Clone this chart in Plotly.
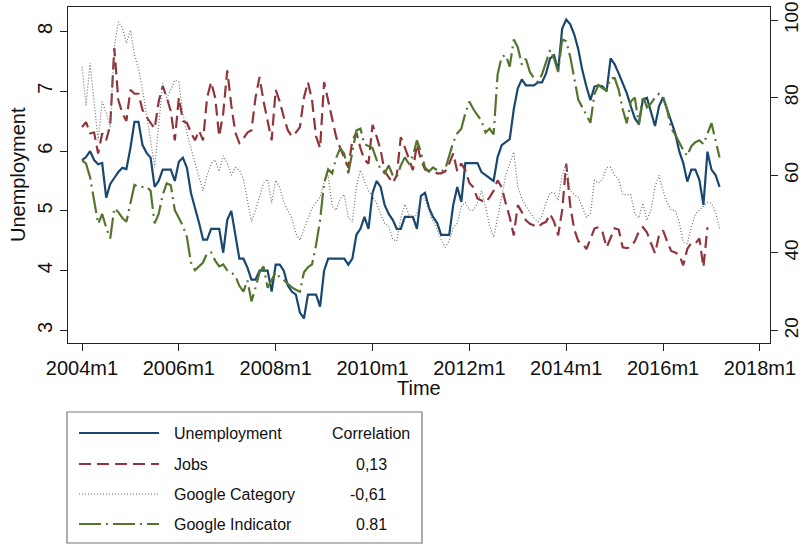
import plotly.graph_objects as go

# Monthly series, 2004m1 .. 2017m3
start_year = 2004
unemployment = [
    5.85, 5.9, 6.0, 5.85, 5.78, 5.8, 5.22, 5.45, 5.55, 5.65, 5.72, 5.7,
    6.05, 6.49, 6.49, 6.1, 5.97, 5.89, 5.4, 5.5, 5.69, 5.69, 5.69, 5.5,
    5.82, 5.89, 5.72, 5.3, 5.07, 4.8, 4.52, 4.52, 4.7, 4.7, 4.7, 4.3,
    4.85, 5.0, 4.6, 4.2, 4.2, 4.05, 3.85, 3.85, 4.0, 4.0, 4.0, 3.65,
    4.1, 4.1, 4.0, 3.75, 3.65, 3.6, 3.3, 3.2, 3.6, 3.6, 3.6, 3.4,
    4.0, 4.2, 4.2, 4.2, 4.2, 4.2, 4.1, 4.2, 4.6, 4.7, 4.9, 4.7,
    5.3, 5.5, 5.4, 5.1, 4.95, 4.85, 4.7, 4.7, 4.9, 4.9, 4.9, 4.7,
    5.25, 5.3, 5.05, 4.9, 4.8, 4.6, 4.6, 4.6, 5.1, 5.4, 5.15, 5.8,
    5.8, 5.8, 5.8, 5.65, 5.6, 5.55, 5.5, 5.9, 6.1, 6.15, 6.2, 6.7,
    7.05, 7.2, 7.1, 7.1, 7.1, 7.15, 7.15, 7.3, 7.55, 7.6, 7.35, 8.05,
    8.2, 8.12, 7.95, 7.7, 7.35, 7.08, 6.85, 7.08, 7.1, 7.08, 7.0, 7.55,
    7.45, 7.3, 7.15, 6.97, 6.75, 6.55, 6.45, 6.86, 6.89, 6.65, 6.42, 6.75,
    6.9, 6.7, 6.5, 6.3, 6.0, 5.8, 5.49, 5.69, 5.69, 5.52, 5.1, 5.99,
    5.69, 5.6, 5.4,
]
jobs = [
    72.4, 73.7, 70.8, 71, 65.6, 70.8, 69, 73, 92.8, 79.4, 76, 74,
    82, 81, 81, 76.8, 75, 73.5, 72, 79, 83, 80, 76.5, 69,
    80, 74, 73.5, 71, 69, 71.5, 69, 80, 84, 80, 70, 76,
    87, 78, 71, 68.3, 69.5, 71, 71.6, 80, 85.3, 79, 74, 69,
    82, 79, 75, 71.6, 70, 71, 72.4, 80, 84, 79.4, 70, 67,
    84, 79, 74, 69.8, 67, 64.6, 62, 69, 71, 67, 64, 63,
    73, 70, 66.5, 61, 59.5, 58, 60, 69.8, 67.2, 64, 61.3, 68,
    64, 61.5, 61, 61, 60.5, 60.5, 61, 63, 65.6, 61, 63, 61.3,
    58, 56.9, 54, 53.5, 53, 54.3, 56, 58.7, 56.9, 52.8, 49.2, 44.5,
    52.3, 50.5, 48.4, 47.5, 47, 46.6, 47.5, 48, 50, 48, 44.5, 51,
    63, 52, 46, 43, 42.4, 41, 43.5, 46.3, 46.6, 45.3, 41.4, 44,
    46.3, 46, 41.4, 41.2, 41.5, 43, 45.5, 46.6, 45.3, 42.5, 39.9, 44.5,
    45.8, 43, 40.5, 40.1, 39.5, 36.8, 41, 42.5, 42.4, 43.7, 36.3, 46.6,
    None, None, None,
]
google_category = [
    88, 78, 88.9, 79.4, 69, 79, 76, 72.4, 93, 99.5, 98, 94,
    97.4, 91, 87.5, 82, 76, 69, 62, 72, 83.7, 80, 82, 84.5,
    84, 76, 71, 67, 63, 59.5, 56, 60, 63, 64, 61, 65,
    63, 60, 62, 61.3, 59, 53, 48, 51, 54.3, 58, 59, 52.8,
    58.7, 56.9, 53, 51, 49, 45, 43.2, 46, 49, 51.5, 53, 54.3,
    58, 60, 52, 51, 54, 55, 49.2, 48, 57, 61.3, 58.5, 56,
    54.5, 52.8, 50, 47.6, 46.8, 43.5, 43, 49, 52.5, 50, 48.5, 50,
    54, 54, 50.5, 48.4, 46, 43.5, 41.4, 43, 46.6, 47.6, 52, 53,
    51, 51, 52.8, 56, 52, 47, 44, 49, 55, 60, 63, 66,
    57, 54, 52, 50.5, 49, 48, 49.5, 53, 55.5, 55.5, 53.5, 60,
    63, 56, 55, 54.3, 51.5, 49.2, 50, 58.7, 58, 59, 62, 62,
    60, 59, 55, 55, 55, 50, 49, 52.8, 48.4, 51, 57, 60,
    56, 53, 51, 51, 48, 42.7, 42.4, 46.6, 50, 51, 52, 53,
    52.8, 50.5, 46.3,
]
google_indicator = [
    63.9, 63, 59.5, 53, 47.5, 50, 46.5, 43.7, 51.5, 50.5, 49, 48,
    53, 57.5, 57, 57, 57, 56, 47.6, 50, 55, 57.9, 57.4, 51,
    49, 47, 44, 37.5, 35.5, 36.5, 37.5, 39.9, 40.1, 38, 36.5, 37,
    35.5, 35, 34, 31.5, 30, 32.9, 27.5, 31, 35, 36.5, 31, 33,
    35, 33.7, 33, 32, 31.1, 30.5, 30, 35, 36.3, 37, 42, 48.4,
    58, 61.5, 60.5, 64.5, 67, 65.5, 60.5, 66, 71.5, 72, 68, 67.5,
    67, 64, 61.5, 60.5, 62.5, 60, 59.5, 62.5, 64.6, 63, 65, 69,
    66, 62, 61, 62, 61.3, 61, 61.5, 65, 68.5, 70.8, 72, 76,
    79, 77, 75.5, 74, 71, 72, 70.5, 86, 90.5, 91, 88, 95,
    93, 88.5, 90, 86.6, 85, 84, 86, 89, 92.3, 90, 86.6, 95,
    94.5, 90.5, 85, 79.4, 77.5, 75.5, 73.5, 81, 83.2, 82.4, 81.9, 85,
    85, 82, 77, 73.4, 79, 80, 73, 80.5, 77.5, 78.5, 80, 81,
    80, 77, 72, 70.5, 68.5, 66.5, 65, 67.5, 68.5, 69, 68, 70.8,
    73.4, 69, 64.6,
]

series_names = ["Unemployment", "Jobs", "Google Category", "Google Indicator"]
correlations = ["Correlation", "0,13", "-0,61", "0.81"]

tick_years = [2004, 2006, 2008, 2010, 2012, 2014, 2016, 2018]
left_ticks = [3, 4, 5, 6, 7, 8]
right_ticks = [20, 40, 60, 80, 100]

# month index counted from 2004m1
t = list(range(len(unemployment)))
tick_pos = [(y - start_year) * 12 for y in tick_years]
tick_txt = [f"{y}m1" for y in tick_years]

NAVY = "#1a476f"
MAROON = "#90353b"
GREY = "#6e6e6e"
GREEN = "#55752f"
FONT = "Liberation Sans, Arial, Helvetica, sans-serif"

styles = [
    dict(color=NAVY, width=2.2, dash="solid"),
    dict(color=MAROON, width=2.2, dash="12px,6px"),
    dict(color=GREY, width=1.2, dash="1px,2px"),
    dict(color=GREEN, width=2.2, dash="22px,5px,2px,5px"),
]

fig = go.Figure()
fig.add_trace(go.Scatter(x=t, y=unemployment, mode="lines", name=series_names[0],
                         line=styles[0], yaxis="y"))
for name, vals, st in zip(series_names[1:], [jobs, google_category, google_indicator], styles[1:]):
    fig.add_trace(go.Scatter(x=t, y=vals, mode="lines", name=name, line=st, yaxis="y2"))

# plot region in pixels
W, H = 802, 546
L, R, T, B = 68, 770, 7, 343
pw, ph = R - L, B - T


def px(xp):
    return (xp - L) / pw


def py(yp):
    return (B - yp) / ph


axis_common = dict(showgrid=False, zeroline=False, showline=True, linecolor="#222",
                   linewidth=1, ticks="outside", ticklen=7, tickcolor="#222",
                   tickfont=dict(family=FONT, size=20, color="#111"))

fig.update_layout(
    width=W, height=H,
    margin=dict(l=L, r=W - R, t=T, b=H - B, autoexpand=False),
    paper_bgcolor="white", plot_bgcolor="white",
    showlegend=False,
    font=dict(family=FONT, color="#111"),
    xaxis=dict(range=[-3.47, 170.5], tickvals=tick_pos, ticktext=tick_txt,
               mirror=True, **axis_common),
    yaxis=dict(range=[2.79, 8.41], tickvals=left_ticks, tickangle=-90, **axis_common),
    yaxis2=dict(range=[16.77, 103.35], tickvals=right_ticks, tickangle=-90,
                overlaying="y", side="right", ticklabelstandoff=-3, **axis_common),
)
fig.update_layout(yaxis2_tickfont_size=19)


def label(x, y, text, size, xanchor="center", angle=0):
    fig.add_annotation(x=px(x), y=py(y), xref="paper", yref="paper", text=text,
                       textangle=angle, showarrow=False, xanchor=xanchor, yanchor="middle",
                       font=dict(family=FONT, size=size, color="#111"))


# axis titles
label(18, 175, "Unemployment", 20, angle=-90)
label(419, 388, "Time", 20)

# legend box with correlation column
fig.add_shape(type="rect", xref="paper", yref="paper", x0=px(67), x1=px(422),
              y0=py(412), y1=py(543), line=dict(color="#777", width=1.2), fillcolor="white")
row_y = [433, 464, 494, 524]
for name, corr, st, yy in zip(series_names, correlations, styles, row_y):
    fig.add_shape(type="line", xref="paper", yref="paper", x0=px(79), x1=px(159),
                  y0=py(yy), y1=py(yy), line=st)
    label(172, yy, name, 16, xanchor="left")
    label(412 if corr == "Correlation" else 389, yy, corr, 16, xanchor="right")

fig.write_html("out.html")
